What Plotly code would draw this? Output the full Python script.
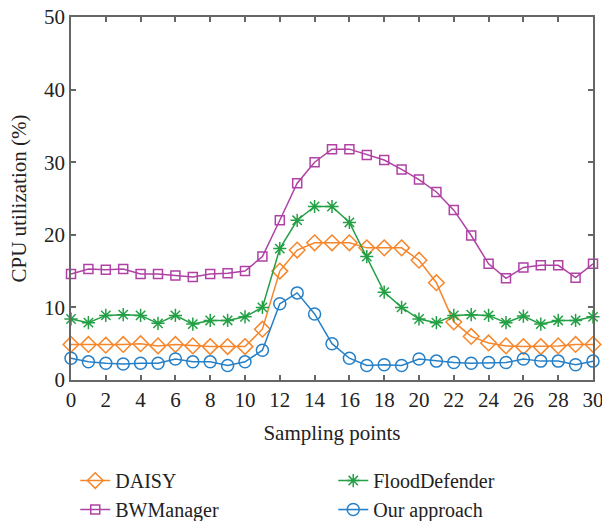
import plotly.graph_objects as go

x_points = list(range(31))

daisy = [4.9, 4.9, 4.8, 4.9, 5.0, 4.7, 4.9, 4.7, 4.6, 4.6, 4.6, 7.0, 15.0, 17.9, 18.9, 18.9,
         18.9, 18.2, 18.2, 18.2, 16.5, 13.4, 8.0, 6.0, 5.1, 4.7, 4.6, 4.6, 4.7, 4.9, 4.9]
bwmanager = [14.6, 15.3, 15.2, 15.3, 14.6, 14.6, 14.4, 14.2, 14.6, 14.7, 15.0, 17.0, 22.0, 27.1, 30.0, 31.8,
             31.8, 31.0, 30.3, 29.0, 27.6, 25.9, 23.4, 19.9, 16.0, 14.0, 15.5, 15.8, 15.8, 14.1, 16.0]
flooddefender = [8.4, 7.9, 8.9, 9.0, 8.9, 7.8, 8.9, 7.7, 8.2, 8.2, 8.7, 10.0, 18.1, 22.0, 23.9, 23.9,
                 21.7, 17.0, 12.1, 10.0, 8.4, 7.9, 8.9, 9.0, 8.9, 7.9, 8.8, 7.7, 8.2, 8.2, 8.7]
our_approach = [3.0, 2.5, 2.3, 2.2, 2.3, 2.3, 2.9, 2.5, 2.5, 2.0, 2.5, 4.1, 10.5, 12.0, 9.1, 5.0,
                3.0, 2.0, 2.1, 2.0, 2.9, 2.6, 2.4, 2.3, 2.4, 2.4, 2.9, 2.6, 2.6, 2.1, 2.6]

x_ticks = list(range(0, 31, 2))
y_ticks = list(range(0, 51, 10))

FONT = "Liberation Serif"
series = [
    ("DAISY", daisy, "#F7862A", "diamond-open", 12),
    ("FloodDefender", flooddefender, "#23A045", "asterisk-open", 11),
    ("BWManager", bwmanager, "#B042A6", "square-open", 9),
    ("Our approach", our_approach, "#2680C8", "circle-open", 12),
]

fig = go.Figure()
for name, vals, color, sym, size in series:
    fig.add_trace(go.Scatter(
        x=x_points, y=vals, name=name, mode="lines+markers",
        line=dict(color=color, width=1.5),
        marker=dict(symbol=sym, size=size, color=color, line=dict(width=1.5, color=color)),
        cliponaxis=False,
    ))

axis_common = dict(
    showline=True, linecolor="#666666", linewidth=1.5, mirror="ticks",
    ticks="inside", ticklen=5, tickwidth=1.5, tickcolor="#666666",
    showgrid=False, zeroline=False, automargin=False,
    ticklabeloverflow="allow",
    tickfont=dict(family=FONT, size=21, color="#222222"),
)

fig.update_layout(
    width=602, height=521,
    margin=dict(l=71, r=9, t=17, b=141),
    paper_bgcolor="white", plot_bgcolor="white",
    font=dict(family=FONT, size=20, color="#222222"),
    xaxis=dict(range=[0, 30], tickvals=x_ticks, ticktext=[str(v) for v in x_ticks],
               title=dict(text="Sampling points", font=dict(family=FONT, size=21), standoff=14),
               **axis_common),
    yaxis=dict(range=[0, 50], tickvals=y_ticks, ticktext=[str(v) for v in y_ticks],
               title=dict(text="CPU utilization (%)", font=dict(family=FONT, size=21), standoff=12),
               **axis_common),
    showlegend=True,
    legend=dict(orientation="h", xref="container", yref="container",
                x=0.125, xanchor="left", y=0.115, yanchor="top",
                entrywidth=213, entrywidthmode="pixels",
                font=dict(family=FONT, size=20, color="#222222"),
                bgcolor="rgba(0,0,0,0)", traceorder="normal"),
)

fig.write_html("out.html")
